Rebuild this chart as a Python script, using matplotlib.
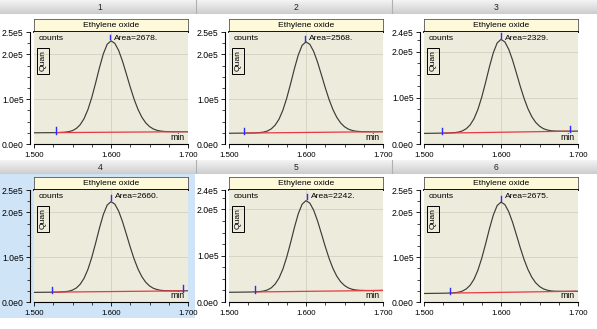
import matplotlib
matplotlib.use("Agg")
import matplotlib.pyplot as plt
import numpy as np
from matplotlib.patches import Rectangle
from matplotlib.ticker import FixedLocator, MultipleLocator

# ---- data -------------------------------------------------------------
panel_ids = ["1", "2", "3", "4", "5", "6"]
compound = "Ethylene oxide"
areas = ["2678.", "2568.", "2329.", "2660.", "2242.", "2675."]
y_max = [2.5e5, 2.5e5, 2.43e5, 2.5e5, 2.42e5, 2.5e5]
y_top_labels = ["2.5e5", "2.5e5", "2.4e5", "2.5e5", "2.4e5", "2.5e5"]
y_tick_values = [0.0, 1.0e5, 2.0e5]
y_tick_labels = ["0.0e0", "1.0e5", "2.0e5"]
x_tick_values = [1.5, 1.6, 1.7]
x_tick_labels = ["1.500", "1.600", "1.700"]

# retention time (min)
times = [1.500, 1.530, 1.540, 1.545, 1.550, 1.555, 1.560, 1.565, 1.570,
         1.575, 1.580, 1.585, 1.590, 1.595, 1.600, 1.605, 1.610, 1.615,
         1.620, 1.625, 1.630, 1.635, 1.640, 1.645, 1.650, 1.655, 1.660,
         1.665, 1.670, 1.680, 1.690, 1.700]

# abundance in thousands of counts
counts_1 = [25.0, 25.4, 26.3, 27.5, 29.9, 34.7, 43.1, 56.6, 76.7, 103.6,
            136.0, 170.3, 201.0, 222.5, 230.3, 224.6, 208.6, 184.5, 156.0,
            127.0, 100.0, 77.5, 60.0, 47.4, 38.9, 33.5, 30.4, 28.8, 27.9,
            27.4, 27.4, 27.5]
counts_2 = [24.0, 24.5, 25.5, 26.6, 29.1, 33.9, 42.3, 55.6, 75.6, 102.4,
            134.4, 168.5, 198.9, 220.3, 228.0, 222.4, 206.5, 182.7, 154.5,
            125.7, 99.1, 76.8, 59.4, 46.9, 38.5, 33.2, 30.2, 28.5, 27.8,
            27.4, 27.3, 27.5]
counts_3 = [23.0, 23.8, 24.8, 25.9, 28.5, 33.3, 41.6, 55.0, 75.0, 101.7,
            133.6, 167.6, 198.0, 219.2, 227.0, 221.5, 205.7, 182.1, 154.0,
            125.2, 98.8, 76.6, 59.3, 47.0, 38.7, 33.3, 30.4, 28.7, 28.1,
            27.7, 27.75, 28.0]
counts_4 = [21.5, 22.0, 23.0, 24.1, 26.6, 31.3, 39.7, 52.9, 72.7, 99.3,
            131.1, 164.9, 195.1, 216.3, 224.0, 218.4, 202.7, 179.1, 151.1,
            122.5, 96.1, 73.9, 56.7, 44.3, 35.9, 30.6, 27.7, 26.0, 25.3,
            24.85, 24.8, 25.0]
counts_5 = [21.0, 21.6, 22.6, 23.7, 26.1, 30.7, 38.9, 51.9, 71.2, 97.2,
            128.2, 161.3, 190.8, 211.5, 219.0, 213.6, 198.2, 175.2, 147.9,
            119.9, 94.2, 72.5, 55.7, 43.7, 35.6, 30.4, 27.5, 25.9, 25.2,
            24.8, 24.8, 25.0]
counts_6 = [19.0, 19.75, 20.8, 21.9, 24.45, 29.3, 37.6, 51.0, 70.95, 97.7,
            129.6, 163.6, 194.0, 215.2, 223.0, 217.5, 201.65, 178.1, 150.0,
            121.2, 94.75, 72.6, 55.3, 43.0, 34.65, 29.3, 26.4, 24.7, 24.05,
            23.7, 23.75, 24.0]
all_counts = [counts_1, counts_2, counts_3, counts_4, counts_5, counts_6]

# integration baseline: start / end time and level (thousands of counts)
base_start_t = [1.529, 1.520, 1.524, 1.524, 1.534, 1.534]
base_end_t = [1.700, 1.700, 1.690, 1.694, 1.700, 1.697]
base_start_y = [25.4, 24.4, 23.6, 22.0, 21.7, 19.9]
base_end_y = [27.5, 27.5, 27.8, 24.9, 25.0, 24.0]
show_end_tick = [False, False, True, True, False, False]
apex_t = [1.599, 1.599, 1.600, 1.600, 1.601, 1.600]
apex_y = [230.3, 228.0, 227.0, 224.0, 219.0, 223.0]

# ---- layout (pixel geometry) ------------------------------------------
W, H = 597, 329
fig = plt.figure(figsize=(W / 100, H / 100), dpi=100)
fig.patch.set_facecolor("white")


def frac(x0, y0, x1, y1):
    return [x0 / W, 1 - y1 / H, (x1 - x0) / W, (y1 - y0) / H]


FONT = "Liberation Sans"
col_x = [0, 195, 390]
row_y = [0, 158]
cell_edges = [0, 196, 392, 597]
MARK = "#2b2bff"

# selected-cell highlight
fig.add_artist(Rectangle((0, 1 - 318 / H), 195 / W, (318 - 174) / H,
                         transform=fig.transFigure, facecolor="#cfe4f7",
                         edgecolor="none", zorder=0))

# header bars
hdr_cmap = matplotlib.colors.LinearSegmentedColormap.from_list(
    "hdr", ["#f4f4f4", "#cdcdcd"])
grad = np.linspace(0, 1, 32).reshape(-1, 1)
for r, ytop in enumerate([0, 160]):
    hax = fig.add_axes(frac(0, ytop, W, ytop + 14))
    hax.imshow(grad, aspect="auto", cmap=hdr_cmap, extent=(0, W, 14, 0))
    hax.set_xlim(0, W)
    hax.set_ylim(14, 0)
    hax.axis("off")
    for xe in cell_edges[1:-1]:
        hax.plot([xe, xe], [0, 14], color="#b0b0b0", lw=0.8)
    for c in range(3):
        hax.text((cell_edges[c] + cell_edges[c + 1]) / 2 + 2, 7.5,
                 panel_ids[r * 3 + c], ha="center", va="center",
                 fontsize=6.2, family=FONT, color="#222222")

for i in range(6):
    r, c = divmod(i, 3)
    ox, oy = col_x[c], row_y[r]
    x0, x1 = 34 + ox, 188 + ox
    t0, t1 = 19 + oy, 32 + oy
    b1 = 144 + oy

    # compound title strip
    tax = fig.add_axes(frac(x0, t0, x1, t1))
    tax.set_facecolor("#fdf9d9")
    tax.set_xticks([])
    tax.set_yticks([])
    for s in tax.spines.values():
        s.set_color("#555555")
        s.set_linewidth(0.6)
    tax.spines["bottom"].set_color("black")
    tax.spines["bottom"].set_linewidth(1.3)
    tax.text(0.5, 0.47, compound, ha="center", va="center",
             fontsize=6.1, family=FONT, transform=tax.transAxes)

    # chromatogram axes
    ax = fig.add_axes(frac(x0, t1, x1, b1))
    ax.set_facecolor("#ecebdc")
    ax.set_xlim(1.5, 1.7)
    ax.set_ylim(0, y_max[i])
    for s in ["top", "right"]:
        ax.spines[s].set_visible(False)
    ax.spines["left"].set_position(("outward", 3))
    for s in ["left", "bottom"]:
        ax.spines[s].set_linewidth(0.8)
    ax.xaxis.set_major_locator(FixedLocator(x_tick_values))
    ax.set_xticklabels(x_tick_labels)
    ax.xaxis.set_minor_locator(MultipleLocator(0.025))
    ax.yaxis.set_major_locator(FixedLocator(y_tick_values + [y_max[i]]))
    ax.set_yticklabels(y_tick_labels + [y_top_labels[i]])
    ax.yaxis.set_minor_locator(MultipleLocator(2.5e4))
    ax.tick_params(which="major", length=3, width=0.6, colors="black")
    ax.tick_params(axis="y", labelsize=6.2, pad=1.5)
    ax.tick_params(axis="x", labelsize=5.7, pad=2.6)
    ax.tick_params(which="minor", length=2, width=0.5)
    for lab in ax.get_xticklabels() + ax.get_yticklabels():
        lab.set_family(FONT)

    # light grid
    ax.axvline(1.6, color="#d6d5c4", lw=0.7, zorder=0.5)
    for gy in [1.0e5, 2.0e5]:
        ax.axhline(gy, color="#d6d5c4", lw=0.7, zorder=0.5)

    tt = np.array(times)
    yy = np.array(all_counts[i]) * 1e3
    ax.plot(tt, yy, color="#3c3c38", lw=0.85, zorder=3)
    ax.plot([base_start_t[i], base_end_t[i]],
            [base_start_y[i] * 1e3, base_end_y[i] * 1e3],
            color="#e63a44", lw=0.9, zorder=4)

    # integration markers
    ax.plot([base_start_t[i]] * 2,
            [base_start_y[i] * 1e3 - 2e3, base_start_y[i] * 1e3 + 1.2e4],
            color=MARK, lw=1.0, zorder=5)
    if show_end_tick[i]:
        ax.plot([base_end_t[i]] * 2,
                [base_end_y[i] * 1e3 - 2e3, base_end_y[i] * 1e3 + 1.2e4],
                color=MARK, lw=1.0, zorder=5)
    ax.plot([apex_t[i]] * 2, [apex_y[i] * 1e3 + 3e3, apex_y[i] * 1e3 + 1.4e4],
            color=MARK, lw=1.0, zorder=5, clip_on=False)

    ax.annotate("Area=" + areas[i], xy=(apex_t[i], 1.0),
                xycoords=("data", "axes fraction"),
                xytext=(4, -7), textcoords="offset pixels", fontsize=6.1,
                family=FONT, ha="left", va="center")
    ax.annotate("counts", xy=(0, 1), xycoords="axes fraction", xytext=(5, -7),
                textcoords="offset pixels", fontsize=6.1, family=FONT,
                ha="left", va="center")
    ax.annotate("Quan", xy=(0, 1), xycoords="axes fraction", xytext=(9, -29),
                textcoords="offset pixels", fontsize=6.1, family=FONT,
                ha="center", va="center", rotation=90,
                bbox=dict(boxstyle="square,pad=0.3", facecolor="none",
                          edgecolor="black", lw=0.7))
    ax.annotate("min", xy=(1, 0), xycoords="axes fraction", xytext=(-3, 7),
                textcoords="offset pixels", fontsize=6.3, family=FONT,
                ha="right", va="center")

fig.savefig("out.png", dpi=100, facecolor=fig.get_facecolor())
